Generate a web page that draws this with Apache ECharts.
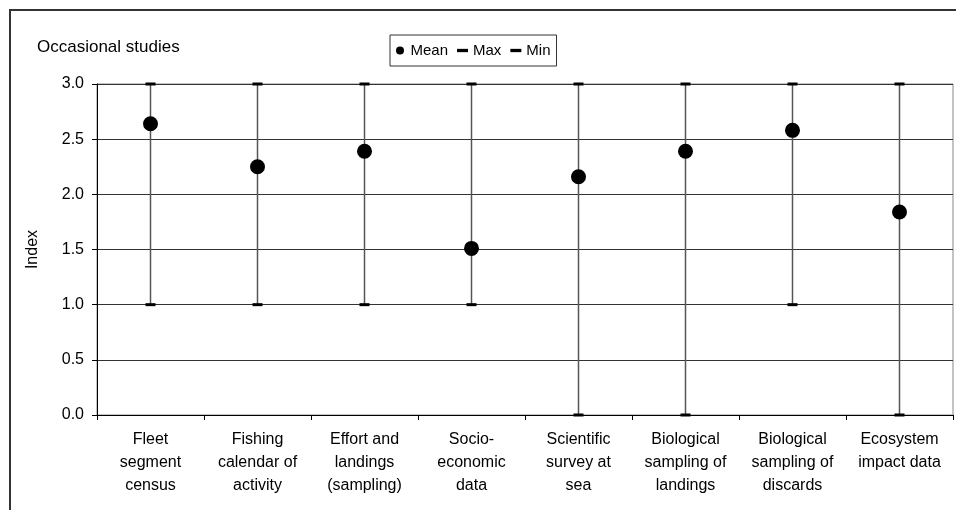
<!DOCTYPE html>
<html>
<head>
    <meta charset="utf-8">
    <title>Occasional studies</title>
    <script src="https://cdn.jsdelivr.net/npm/echarts@6/dist/echarts.min.js"></script>
    <style>
        html, body { margin: 0; padding: 0; background: #fff; }
    </style>
</head>
<body>

    <div id="main" style="width: 956px;height:510px;"></div>
    <script type="text/javascript">
        // data
        var categories = [
            'Fleet\nsegment\ncensus',
            'Fishing\ncalendar of\nactivity',
            'Effort and\nlandings\n(sampling)',
            'Socio-\neconomic\ndata',
            'Scientific\nsurvey at\nsea',
            'Biological\nsampling of\nlandings',
            'Biological\nsampling of\ndiscards',
            'Ecosystem\nimpact data'
        ];
        var meanValues = [2.64, 2.25, 2.39, 1.51, 2.16, 2.39, 2.58, 1.84];
        var maxValues = [3, 3, 3, 3, 3, 3, 3, 3];
        var minValues = [1, 1, 1, 1, 0, 0, 1, 0];
        var yMin = 0, yMax = 3, yStep = 0.5;

        var font = 'Liberation Sans, Arial, sans-serif';
        var dash = 'path://M0,0 H10 V3 H0 Z';

        var rangeData = categories.map(function (c, i) {
            return [i, minValues[i], maxValues[i]];
        });

        var myChart = echarts.init(document.getElementById('main'));
        var option = {
            animation: false,
            backgroundColor: '#fff',
            textStyle: { fontFamily: font, color: '#000' },
            graphic: [
                {
                    type: 'rect',
                    shape: { x: 10, y: 10, width: 1000, height: 600 },
                    style: { fill: 'none', stroke: '#333', lineWidth: 2 },
                    silent: true
                },
                {
                    type: 'text',
                    left: 37, top: 39,
                    style: { text: 'Occasional studies', font: '17px ' + font, fill: '#000' }
                }
            ],
            legend: {
                left: 390,
                top: 35,
                orient: 'horizontal',
                borderColor: '#333',
                borderWidth: 1,
                borderRadius: 0,
                padding: [8, 6, 8, 6],
                itemGap: 9,
                itemWidth: 11,
                itemHeight: 8,
                textStyle: { fontSize: 15, fontFamily: font, color: '#000' },
                data: [
                    { name: 'Mean', icon: 'circle' },
                    { name: 'Max', icon: dash },
                    { name: 'Min', icon: dash }
                ]
            },
            grid: {
                left: 97, right: 3, top: 84, bottom: 95,
                show: true,
                borderColor: '#888',
                borderWidth: 1
            },
            xAxis: {
                type: 'category',
                data: categories,
                boundaryGap: true,
                axisLine: { lineStyle: { color: '#000', width: 1 } },
                axisTick: { show: true, length: 5, lineStyle: { color: '#000' } },
                axisLabel: {
                    interval: 0,
                    margin: 13,
                    fontSize: 16,
                    lineHeight: 23,
                    color: '#000',
                    fontFamily: font
                },
                splitLine: { show: false }
            },
            yAxis: {
                type: 'value',
                min: yMin,
                max: yMax,
                interval: yStep,
                name: 'Index',
                nameLocation: 'middle',
                nameGap: 56,
                nameTextStyle: { fontSize: 16, color: '#000', fontFamily: font },
                axisLine: { show: true, lineStyle: { color: '#000', width: 1 } },
                axisTick: { show: true, length: 5, lineStyle: { color: '#000' } },
                axisLabel: {
                    margin: 13,
                    fontSize: 16,
                    color: '#000',
                    fontFamily: font,
                    formatter: function (v) { return v.toFixed(1); }
                },
                splitLine: { show: true, lineStyle: { color: '#333', width: 1 } }
            },
            series: [
                {
                    name: 'range',
                    type: 'custom',
                    data: rangeData,
                    z: 2,
                    renderItem: function (params, api) {
                        var lo = api.coord([api.value(0), api.value(1)]);
                        var hi = api.coord([api.value(0), api.value(2)]);
                        return {
                            type: 'line',
                            shape: { x1: lo[0], y1: lo[1], x2: hi[0], y2: hi[1] },
                            style: { stroke: '#555', lineWidth: 1.5 }
                        };
                    }
                },
                {
                    name: 'Max',
                    type: 'scatter',
                    data: maxValues,
                    symbol: 'rect',
                    symbolSize: [10, 3],
                    itemStyle: { color: '#000', opacity: 1 },
                    z: 3
                },
                {
                    name: 'Min',
                    type: 'scatter',
                    data: minValues,
                    symbol: 'rect',
                    symbolSize: [10, 3],
                    itemStyle: { color: '#000', opacity: 1 },
                    z: 3
                },
                {
                    name: 'Mean',
                    type: 'scatter',
                    data: meanValues,
                    symbol: 'circle',
                    symbolSize: 15,
                    itemStyle: { color: '#000', opacity: 1 },
                    z: 4
                }
            ]
        };
        myChart.setOption(option);
    </script>
</body>
</html>
